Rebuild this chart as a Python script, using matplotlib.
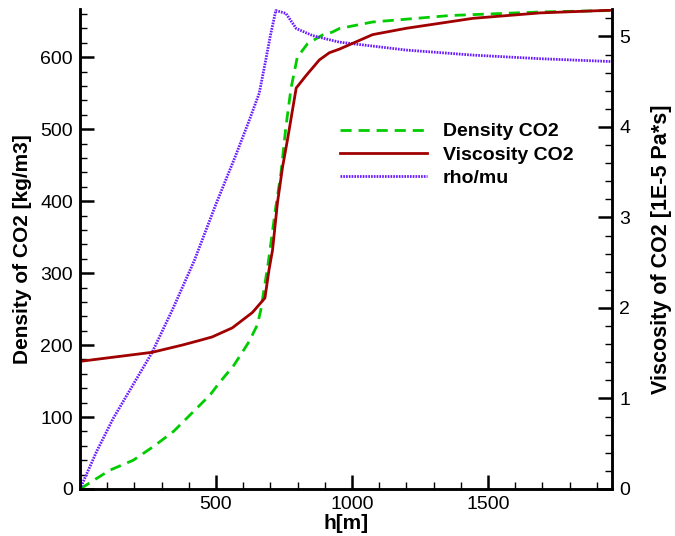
import matplotlib
matplotlib.use("Agg")
import matplotlib.pyplot as plt
from matplotlib.ticker import MultipleLocator

plt.rcParams['font.family'] = ['Liberation Sans', 'DejaVu Sans']

# Density CO2 [kg/m3] vs h[m]
dens_h = [0, 109, 196, 270, 344, 405, 479, 511, 566, 622, 652, 665, 680, 692, 702, 720,
          739, 757, 776, 799, 837, 892, 928, 954, 1076, 1360, 1692, 1957]
dens = [0, 26, 40, 59, 80, 103, 131, 147, 172, 205, 228, 249, 285, 314, 342, 392,
        439, 503, 557, 600, 619, 631, 635, 640, 649, 658, 663, 665]

# Viscosity CO2 [1E-5 Pa*s] vs h[m]
visc_h = [0, 265, 376, 438, 486, 560, 634, 680, 695, 708, 726, 745, 763, 795, 832, 880,
          917, 954, 1076, 1200, 1445, 1692, 1957]
visc = [1.41, 1.51, 1.59, 1.64, 1.68, 1.78, 1.95, 2.11, 2.42, 2.64, 3.16, 3.56, 3.86, 4.43,
        4.57, 4.74, 4.82, 4.86, 5.02, 5.09, 5.20, 5.26, 5.29]

# rho/mu (scaled, drawn on the left axis)
rm_h = [0, 61, 122, 264, 341, 421, 499, 573, 622, 659, 683, 700, 720, 757, 795, 856,
        954, 1200, 1445, 1692, 1957]
rm = [0, 52, 98, 189, 250, 318, 395, 464, 512, 550, 596, 630, 665, 661, 640, 630,
      621, 610, 603, 598, 594]

fig = plt.figure(figsize=(6.75, 5.36), dpi=100)
ax1 = fig.add_axes([0.1185, 0.0877, 0.7885, 0.895])
ax2 = ax1.twinx()

l1, = ax1.plot(dens_h, dens, color="#00cc00", lw=2, ls=(0, (4, 2.5)), label="Density CO2")
l3, = ax1.plot(rm_h, rm, color="#6a1aff", lw=2, ls=(0, (0.6, 0.4)), label="rho/mu")
l2, = ax2.plot(visc_h, visc, color="#a00000", lw=2, label="Viscosity CO2")

ax1.set_xlim(0, 1957)
ax1.set_ylim(0, 666.7)
ax2.set_ylim(0, 5.3)

ax1.xaxis.set_minor_locator(MultipleLocator(100))
ax1.yaxis.set_major_locator(MultipleLocator(100))
ax1.yaxis.set_minor_locator(MultipleLocator(20))
ax2.yaxis.set_major_locator(MultipleLocator(1))
ax2.yaxis.set_minor_locator(MultipleLocator(0.2))
ax1.set_xticks([500, 1000, 1500])
ax1.set_xticklabels(["500", "1000", "1500"])

for ax in (ax1, ax2):
    ax.spines['top'].set_visible(False)
    for s in ('left', 'right', 'bottom'):
        ax.spines[s].set_linewidth(1.8)
    ax.tick_params(which='major', direction='in', length=10, width=1.8, labelsize=14, pad=5)
    ax.tick_params(which='minor', direction='in', length=5, width=1)

ax1.set_xlabel("h[m]", fontsize=15, fontweight='bold', labelpad=1)
ax1.set_ylabel("Density of CO2 [kg/m3]", fontsize=15, fontweight='bold', labelpad=6)
ax2.set_ylabel("Viscosity of CO2 [1E-5 Pa*s]", fontsize=15.5, fontweight='bold', labelpad=15)

leg = ax2.legend(handles=[l1, l2, l3], loc='upper left', bbox_to_anchor=(0.455, 0.80),
                 frameon=False, handlelength=4.5, handletextpad=0.8, labelspacing=0.3,
                 prop={'weight': 'bold', 'size': 14})

fig.savefig("out.png", dpi=100)
